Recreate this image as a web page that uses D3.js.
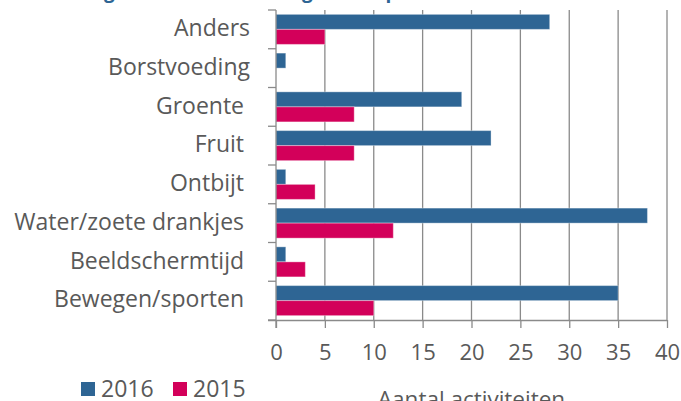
<!DOCTYPE html>
<html>
<head>
<meta charset="utf-8">
<script src="https://cdn.jsdelivr.net/npm/d3@7/dist/d3.min.js"></script>
<style>
  html, body { margin: 0; padding: 0; background: #fff; }
  svg { display: block; font-family: "Open Sans", sans-serif; }
  .cat { white-space: pre; }
</style>
</head>
<body>
<svg id="chart" width="681" height="401"></svg>
<script>
const categories = ["Anders", "Borstvoeding", "Groente ", "Fruit ", "Ontbijt ", "Water/zoete drankjes ", "Beeldschermtijd ", "Bewegen/sporten "];
const series = ["2016", "2015"];
const values2016 = [28, 1, 19, 22, 1, 38, 1, 35];
const values2015 = [5, 0, 8, 8, 4, 12, 3, 10];
const xTicks = [0, 5, 10, 15, 20, 25, 30, 35, 40];
const colors = ["#2E6594", "#D3005A"];
const titleText = "Aantal gezonde activiteiten gericht op thema";
const axisTitle = "Aantal activiteiten";

const svg = d3.select("#chart");
const x = d3.scaleLinear().domain([0, 40]).range([276, 667]);
const y = d3.scaleBand().domain(categories).range([10, 320]).paddingInner(0).paddingOuter(0);
const ys = d3.scaleBand().domain(series).range([0, y.bandwidth()]).paddingInner(0).paddingOuter(0.29);
const gridColor = "#8a8a8a";

// title (mostly cut off at top, as in the reference)
const title = svg.append("text")
  .attr("x", 0).attr("y", -3)
  .attr("font-size", 24).attr("font-weight", "bold")
  .attr("fill", "#2E6594")
  .text(titleText);
(function fitTitle() {
  const node = title.node();
  const i1 = titleText.indexOf("g"), i2 = titleText.indexOf("g", i1 + 1);
  const a = node.getStartPositionOfChar(i1).x, b = node.getStartPositionOfChar(i2).x;
  const fs = 24 * (302 - 104) / (b - a);
  title.attr("font-size", fs).attr("y", 2.5 - 0.24 * fs);
  const a2 = node.getStartPositionOfChar(i1).x;
  title.attr("x", 104 - a2);
})();

// vertical gridlines
svg.append("g").selectAll("line").data(xTicks.slice(1)).join("line")
  .attr("x1", d => x(d)).attr("x2", d => x(d))
  .attr("y1", y.range()[0]).attr("y2", y.range()[1])
  .attr("stroke", gridColor).attr("stroke-width", 1.3);

// bars
const rows = categories.map((c, i) => ({ cat: c, vals: [values2016[i], values2015[i]] }));
const grp = svg.append("g").selectAll("g").data(rows).join("g")
  .attr("transform", d => `translate(0,${y(d.cat)})`);
grp.selectAll("rect").data(d => d.vals.map((v, j) => ({ s: series[j], v, j })).filter(e => e.v > 0)).join("rect")
  .attr("x", x(0))
  .attr("y", d => ys(d.s))
  .attr("width", d => x(d.v) - x(0))
  .attr("height", ys.bandwidth())
  .attr("fill", d => colors[d.j])
  .attr("stroke", "rgba(255,255,255,0.35)").attr("stroke-width", 1);

// x axis
const xAxis = d3.axisBottom(x).tickValues(xTicks).tickSize(8).tickPadding(16).tickSizeOuter(0);
const gx = svg.append("g").attr("transform", `translate(0,320)`).call(xAxis);
gx.select(".domain").attr("stroke", gridColor).attr("stroke-width", 1.3)
  .attr("d", `M${x(0) - 8},0.5H${x(40)}`);
gx.selectAll(".tick line").attr("stroke", gridColor).attr("stroke-width", 1.3);
gx.selectAll(".tick text").attr("font-size", 22).attr("fill", "#595959")
  .attr("font-family", "Open Sans");

// y axis
const yAxis = d3.axisLeft(y).tickSize(0).tickPadding(26);
const gy = svg.append("g").attr("transform", `translate(${x(0)},0)`).call(yAxis);
gy.select(".domain").attr("stroke", gridColor).attr("stroke-width", 1.3)
  .attr("d", `M0,10V328`);
gy.selectAll(".tick text").attr("font-size", 23).attr("fill", "#595959")
  .attr("font-family", "Open Sans").attr("class", "cat").attr("dy", "0.29em");
// boundary ticks between categories
const bounds = categories.map(c => y(c)).concat([y.range()[1]]);
gy.append("g").selectAll("line").data(bounds).join("line")
  .attr("x1", -8).attr("x2", 0).attr("y1", d => d).attr("y2", d => d)
  .attr("stroke", gridColor).attr("stroke-width", 1.3);

// axis title
svg.append("text")
  .attr("x", (x(0) + x(40)) / 2).attr("y", 407)
  .attr("text-anchor", "middle").attr("font-size", 22.5).attr("fill", "#595959")
  .text(axisTitle);

// legend
const leg = svg.append("g");
const legX = [81, 173];
series.forEach((s, i) => {
  leg.append("rect").attr("x", legX[i]).attr("y", 382).attr("width", 14).attr("height", 14).attr("fill", colors[i]);
  leg.append("text").attr("x", legX[i] + 20).attr("y", 397)
    .attr("font-size", 23).attr("fill", "#595959").text(s);
});
</script>
</body>
</html>
